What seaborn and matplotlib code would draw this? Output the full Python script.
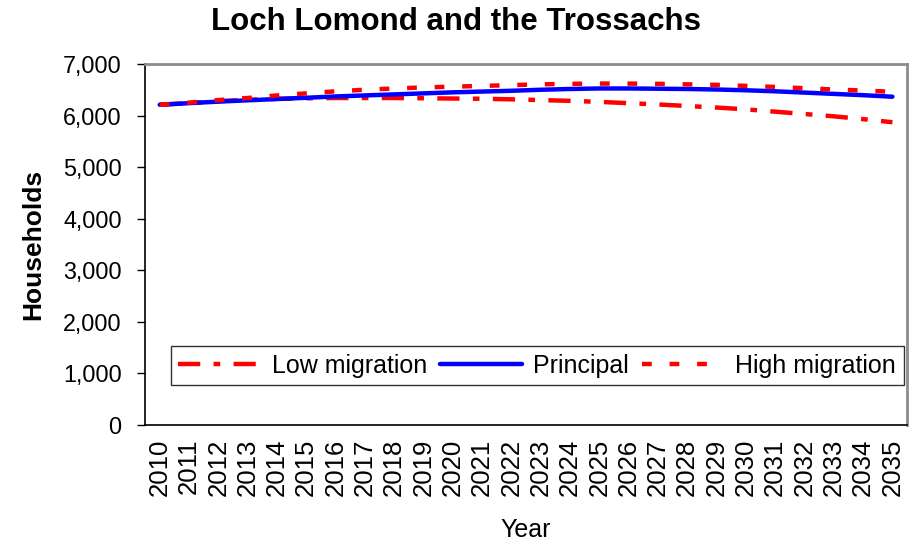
import matplotlib
matplotlib.use("Agg")
import matplotlib.pyplot as plt
import seaborn as sns
import pandas as pd
from matplotlib.ticker import FuncFormatter, MultipleLocator, FixedLocator

years = list(range(2010, 2036))
low_migration = [6210, 6240, 6280, 6305, 6325, 6335, 6340, 6340, 6340, 6335,
                 6330, 6325, 6315, 6300, 6285, 6265, 6240, 6215, 6185, 6155,
                 6120, 6075, 6030, 5985, 5930, 5870]
principal = [6210, 6240, 6270, 6295, 6320, 6345, 6370, 6390, 6410, 6430,
             6450, 6465, 6480, 6500, 6515, 6525, 6525, 6520, 6515, 6505,
             6490, 6470, 6445, 6420, 6395, 6365]
high_migration = [6210, 6250, 6300, 6340, 6390, 6430, 6470, 6500, 6525, 6545,
                  6560, 6575, 6590, 6605, 6615, 6620, 6620, 6615, 6605, 6595,
                  6575, 6555, 6530, 6505, 6485, 6460]
series_names = ["Low migration", "Principal", "High migration"]

idx = list(range(len(years)))
df = pd.concat([
    pd.DataFrame({"idx": idx, "Households": vals, "Series": name})
    for name, vals in zip(series_names, [low_migration, principal, high_migration])
])

sns.set_style("white")
plt.rcParams["font.family"] = ["Liberation Sans", "DejaVu Sans"]
for k in ["text.color", "axes.labelcolor", "xtick.color", "ytick.color"]:
    plt.rcParams[k] = "black"

fig = plt.figure(figsize=(9.15, 5.44), dpi=100)
ax = fig.add_axes([0.1585, 0.2188, 0.9913 - 0.1585, 0.8824 - 0.2188])

palette = {"Low migration": "#FF0000", "Principal": "#0000FF", "High migration": "#FF0000"}
dashes = {"Low migration": (5, 3, 1.5, 3), "Principal": "", "High migration": (2.2, 4)}
sns.lineplot(data=df, x="idx", y="Households", hue="Series", style="Series",
             hue_order=series_names, style_order=series_names,
             palette=palette, dashes=dashes, linewidth=3.2, errorbar=None,
             legend=False, ax=ax)

ax.set_xlim(-0.5, len(years) - 0.5)
ax.set_ylim(0, 7000)
ax.yaxis.set_major_locator(MultipleLocator(1000))
ax.yaxis.set_major_formatter(FuncFormatter(lambda v, p: f"{int(v):,}"))
ax.xaxis.set_major_locator(FixedLocator(idx))
ax.set_xticklabels([str(y) for y in years], rotation=90, fontsize=18.5)
ax.xaxis.set_minor_locator(FixedLocator([i - 0.5 for i in range(len(years) + 1)]))
ax.tick_params(axis="x", which="major", length=0, pad=10)
ax.tick_params(axis="x", which="minor", length=5, width=1, direction="out", color="black")
ax.tick_params(axis="y", which="major", length=5.8, width=1, direction="out",
               labelsize=16.8, pad=11, color="black", left=True)

for s in ["left", "bottom"]:
    ax.spines[s].set_color("black")
    ax.spines[s].set_linewidth(1.2)
for s in ["top", "right"]:
    ax.spines[s].set_color("#8c8c8c")
    ax.spines[s].set_linewidth(2)

ax.set_xlabel("Year", fontsize=18, va="baseline")
ax.xaxis.set_label_coords(0.5, (425 - 537) / 361)
ax.set_ylabel("Households", fontsize=19, fontweight="bold")
ax.yaxis.set_label_coords((45 - 145) / 762, 0.5)

fig.text(0.498, 1 - 30 / 544, "Loch Lomond and the Trossachs", ha="center", va="baseline",
         fontsize=22.5, fontweight="bold")

leg = ax.legend(ax.lines[:3], series_names, loc="center",
                bbox_to_anchor=(537 / 915, (544 - 365.5) / 544),
                bbox_transform=fig.transFigure, ncol=3, fontsize=18,
                frameon=True, fancybox=False, edgecolor="black",
                handlelength=3.3, handletextpad=0.45, columnspacing=0.5,
                borderpad=0.3, borderaxespad=0)
leg.get_frame().set_linewidth(1)

fig.savefig("out.png", dpi=100)
